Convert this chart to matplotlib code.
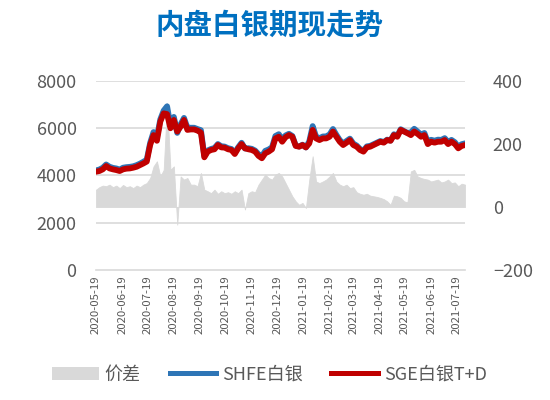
import matplotlib
matplotlib.use("Agg")
import matplotlib.pyplot as plt
import matplotlib.dates as mdates
from matplotlib.patches import Patch
from matplotlib.lines import Line2D
import pandas as pd

plt.rcParams['font.family'] = ['Noto Sans CJK SC', 'DejaVu Sans']

# SGE 白银T+D (元/千克), sampled every 4 days from 2020-05-19
sge = [4160, 4190, 4260, 4400, 4300, 4260, 4230, 4190, 4260, 4290,
       4300, 4330, 4370, 4440, 4510, 4590, 5290, 5710, 5470, 6280,
       6630, 6600, 6000, 6350, 5860, 6070, 6350, 5930, 5950, 5950,
       5900, 5810, 4770, 5010, 5080, 5110, 5290, 5190, 5180, 5110,
       5080, 4910, 5150, 5330, 5150, 5110, 5080, 5010, 4830, 4730,
       4940, 5010, 5110, 5570, 5640, 5430, 5620, 5710, 5640, 5250,
       5220, 5290, 5190, 5360, 5930, 5570, 5500, 5570, 5570, 5640,
       5860, 5640, 5430, 5290, 5390, 5500, 5290, 5220, 5080, 5010,
       5190, 5220, 5290, 5360, 5430, 5390, 5500, 5470, 5710, 5640,
       5930, 5860, 5790, 5710, 5860, 5760, 5640, 5710, 5330, 5430,
       5390, 5430, 5430, 5500, 5330, 5430, 5330, 5150, 5250, 5290]

# 价差 = SHFE - SGE
spread = [55, 63, 68, 66, 71, 63, 68, 60, 70, 63,
          66, 60, 68, 63, 71, 76, 92, 129, 145, 97,
          118, 330, 118, 129, -56, 97, 87, 92, 71, 71,
          66, 108, 55, 50, 44, 55, 42, 50, 44, 47,
          42, 50, 44, 55, -8, 44, 50, 47, 71, 87,
          103, 92, 87, 103, 108, 97, 76, 55, 34, 18,
          7, 13, -3, 87, 161, 81, 76, 81, 87, 97,
          108, 81, 71, 66, 71, 60, 63, 47, 42, 39,
          42, 36, 34, 32, 29, 25, 18, 7, 36, 34,
          29, 18, 15, 113, 118, 97, 92, 89, 87, 81,
          84, 87, 78, 81, 87, 76, 78, 66, 74, 71]

shfe = [a + b for a, b in zip(sge, spread)]
dates = pd.date_range("2020-05-19", periods=len(sge), freq="4D")
tick_dates = pd.date_range("2020-05-01", "2021-07-01", freq="MS") + pd.Timedelta(days=18)

fig = plt.figure(figsize=(5.5, 4), dpi=100)
# area axis (right scale) drawn first, lines axis on top
ax = fig.add_axes([0.1745, 0.325, 0.671, 0.4725])
ax2 = ax.twinx()

ax.fill_between(dates, spread, 0, color="#d9d9d9", linewidth=0.6, edgecolor="#d9d9d9")
ax.set_ylim(-200, 400)
ax.set_yticks([-200, 0, 200, 400])
ax.yaxis.tick_right()

ax2.plot(dates, shfe, color="#2e75b6", linewidth=4.2, solid_capstyle="round")
ax2.plot(dates, sge, color="#c00000", linewidth=4.2, solid_capstyle="round")
ax2.set_ylim(0, 8000)
ax2.set_yticks([0, 2000, 4000, 6000, 8000])
ax2.yaxis.tick_left()
for y in [2000, 4000, 6000, 8000]:
    ax2.axhline(y, color="#d9d9d9", linewidth=1.2, zorder=0)

ax.set_xlim(dates[0], dates[-1])
ax.set_xticks(tick_dates)
ax.xaxis.set_major_formatter(mdates.DateFormatter("%Y-%m-%d"))
for lab in ax.get_xticklabels():
    lab.set_rotation(90)
    lab.set_fontsize(8.2)
    lab.set_color("#595959")

for a in (ax, ax2):
    for s in a.spines.values():
        s.set_visible(False)
    a.tick_params(length=0)
ax.spines["bottom"].set_visible(True)
ax.spines["bottom"].set_color("#d9d9d9")
ax.spines["bottom"].set_linewidth(1.2)
ax.tick_params(axis="y", labelsize=13, labelcolor="#595959", pad=20)
ax2.tick_params(axis="y", labelsize=13, labelcolor="#595959", pad=14)
ax.tick_params(axis="x", pad=4)

fig.text(0.49, 0.935, "内盘白银期现走势", color="#0070c0", fontsize=20.5,
         fontweight="bold", ha="center", va="center")

handles = [Patch(facecolor="#d9d9d9", edgecolor="none"),
           Line2D([], [], color="#2e75b6", linewidth=3.6),
           Line2D([], [], color="#c00000", linewidth=3.6)]
labels = ["价差", "SHFE白银", "SGE白银T+D"]
leg = fig.legend(handles, labels, loc="center", bbox_to_anchor=(0.49, 0.063),
                 ncol=3, frameon=False, fontsize=13, handlelength=2.6,
                 handletextpad=0.3, columnspacing=1.6)
for t in leg.get_texts():
    t.set_color("#595959")

fig.savefig("out.png", dpi=100)
